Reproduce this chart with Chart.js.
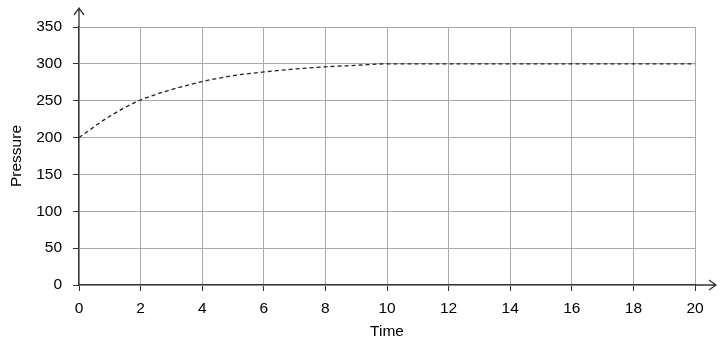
<!DOCTYPE html>
<html><head><meta charset="utf-8">
<script src="https://cdn.jsdelivr.net/npm/chart.js@4"></script>
<style>html,body{margin:0;padding:0;background:#fff}#wrap{width:728px;height:346px}</style>
</head><body><div id="wrap"><canvas id="c" width="728" height="346"></canvas></div>
<script>
const timeValues = [0,1,2,3,4,5,6,7,8,9,10,11,12,13,14,15,16,17,18,19,20];
const pressureValues = [200,229,251,265,276,284,289,293,296,298,300,300,300,300,300,300,300,300,300,300,300];
const xTicks = [0,2,4,6,8,10,12,14,16,18,20];
const yTicks = [0,50,100,150,200,250,300,350];

const FONT = "'Liberation Sans', Arial, sans-serif";

const arrowPlugin = {
  id: 'arrows',
  afterDraw(chart) {
    const ctx = chart.ctx, a = chart.chartArea;
    const x0 = chart.scales.x.getPixelForValue(0);
    const y0 = chart.scales.y.getPixelForValue(0);
    ctx.save();
    ctx.strokeStyle = '#333';
    ctx.lineWidth = 1.3;
    ctx.beginPath();
    ctx.moveTo(x0, a.top); ctx.lineTo(x0, 8);
    ctx.moveTo(x0 - 5, 15); ctx.lineTo(x0, 8); ctx.lineTo(x0 + 5, 15);
    ctx.moveTo(a.right, y0); ctx.lineTo(716, y0);
    ctx.moveTo(709, y0 - 5); ctx.lineTo(716, y0); ctx.lineTo(709, y0 + 5);
    ctx.stroke();
    ctx.restore();
  }
};

new Chart(document.getElementById('c'), {
  type: 'line',
  data: {
    labels: timeValues,
    datasets: [{
      data: timeValues.map((t, i) => ({x: t, y: pressureValues[i]})),
      borderColor: '#222',
      borderWidth: 1.3,
      borderDash: [4, 3],
      pointRadius: 0,
      cubicInterpolationMode: 'monotone',
      fill: false
    }]
  },
  options: {
    responsive: false,
    animation: false,
    events: [],
    layout: { padding: { top: 27, right: 33, left: 0, bottom: 0 } },
    plugins: { legend: { display: false }, tooltip: { enabled: false } },
    scales: {
      x: {
        type: 'linear', min: 0, max: 20,
        afterBuildTicks(s) { s.ticks = xTicks.map(v => ({value: v})); },
        afterFit(s) { s.height = 346 - 285; },
        grid: { color: '#aaa', lineWidth: 1, tickLength: 6, tickColor: '#333' },
        border: { color: '#333', width: 1.3 },
        ticks: { color: '#000', font: { family: FONT, size: 15.5 }, padding: 8, maxRotation: 0 },
        title: { display: true, text: 'Time', color: '#000', font: { family: FONT, size: 15.5 }, padding: { top: 4, bottom: 5 } }
      },
      y: {
        type: 'linear', min: 0, max: 350,
        afterBuildTicks(s) { s.ticks = yTicks.map(v => ({value: v})); },
        afterFit(s) { s.width = 79; },
        grid: { color: '#aaa', lineWidth: 1, tickLength: 6, tickColor: '#333' },
        border: { color: '#333', width: 1.3 },
        ticks: { color: '#000', font: { family: FONT, size: 15.5 }, padding: 11 },
        title: { display: true, text: 'Pressure', color: '#000', font: { family: FONT, size: 15.5 }, padding: { top: 7, bottom: 0 } }
      }
    }
  },
  plugins: [arrowPlugin]
});
</script>
</body></html>
